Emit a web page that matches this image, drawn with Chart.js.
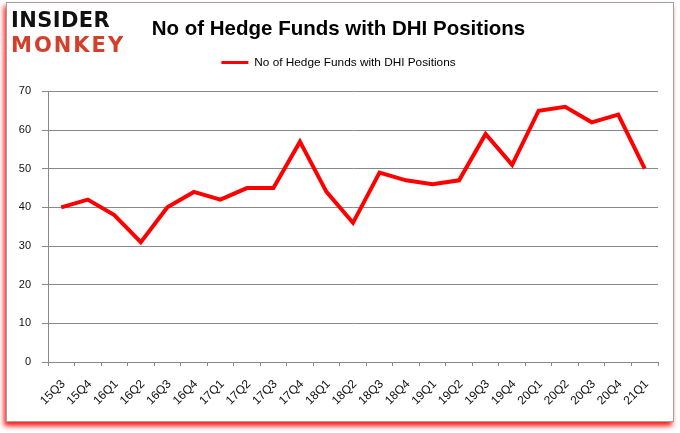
<!DOCTYPE html>
<html>
<head>
<meta charset="utf-8">
<script src="https://cdn.jsdelivr.net/npm/chart.js@4"></script>
<style>
  body{margin:0;background:#fff;width:680px;height:433px;overflow:hidden;}
  #frame{position:absolute;left:6px;top:2px;width:666px;height:418px;border:1px solid #a0a0a0;background:#fff;
    box-shadow:-2px 4px 5px rgba(255,0,0,0.9);}
  #logo{position:absolute;left:11px;top:8px;font-family:"DejaVu Sans";font-weight:bold;line-height:25px;font-size:21px;}
  #logo .a{color:#111;letter-spacing:0.4px;}
  #logo .b{color:#d33f2b;letter-spacing:2px;}
  canvas{position:absolute;left:0;top:0;}
</style>
</head>
<body>
<div id="frame">
  <canvas id="myChart" width="666" height="418"></canvas>
</div>
<div id="logo"><div class="a">INSIDER</div><div class="b">MONKEY</div></div>
<script>
const quarters=['15Q3','15Q4','16Q1','16Q2','16Q3','16Q4','17Q1','17Q2','17Q3','17Q4','18Q1','18Q2','18Q3','18Q4','19Q1','19Q2','19Q3','19Q4','20Q1','20Q2','20Q3','20Q4','21Q1'];
const funds=[40,42,38,31,40,44,42,45,45,57,44,36,49,47,46,47,59,51,65,66,62,64,50];
const yTicks=[0,10,20,30,40,50,60,70];
const seriesName='No of Hedge Funds with DHI Positions';

window.addEventListener('load',()=>{
  const ctx=document.getElementById('myChart');
  new Chart(ctx,{
    type:'line',
    data:{
      labels:quarters,
      datasets:[{
        label:seriesName,
        data:funds,
        borderColor:'#ff0000',
        backgroundColor:'#ff0000',
        borderWidth:4,
        pointRadius:0,
        tension:0
      }]
    },
    options:{
      responsive:false,
      animation:false,
      layout:{padding:{left:12,right:15,top:0,bottom:15}},
      plugins:{
        title:{
          display:true,
          text:'No of Hedge Funds with DHI Positions',
          color:'#000',
          font:{family:'Liberation Sans',size:20.5,weight:'bold'},
          padding:{top:14,bottom:4}
        },
        // empty spacer below the legend
        subtitle:{
          display:true,
          text:'',
          weight:500,
          font:{size:10},
          padding:{top:1,bottom:0}
        },
        legend:{
          display:true,
          labels:{
            color:'#000',
            font:{family:'Liberation Sans',size:11.8},
            boxWidth:27,
            boxHeight:0,
            padding:11,
            generateLabels:(chart)=>{
              const items=Chart.defaults.plugins.legend.labels.generateLabels(chart);
              items.forEach(it=>{it.lineWidth=3;it.strokeStyle='#ff0000';});
              return items;
            }
          }
        },
        tooltip:{enabled:false}
      },
      scales:{
        x:{
          offset:true,
          afterFit:(scale)=>{scale.paddingLeft=0;scale.paddingRight=0;scale.height=44;},
          grid:{display:true,offset:true,drawOnChartArea:false,drawTicks:true,tickLength:4,color:'#888'},
          border:{display:true,color:'#888'},
          ticks:{color:'#111',font:{family:'Liberation Sans',size:12},maxRotation:45,minRotation:45,autoSkip:false,labelOffset:2,padding:11}
        },
        y:{
          min:0,max:70,
          afterBuildTicks:(axis)=>{axis.ticks=yTicks.map(v=>({value:v}));},
          afterFit:(scale)=>{scale.width=29;},
          grid:{color:'#888',tickLength:6},
          border:{display:true,color:'#888'},
          ticks:{color:'#111',font:{family:'Liberation Sans',size:11},padding:11}
        }
      }
    }
  });
});
</script>
</body>
</html>
